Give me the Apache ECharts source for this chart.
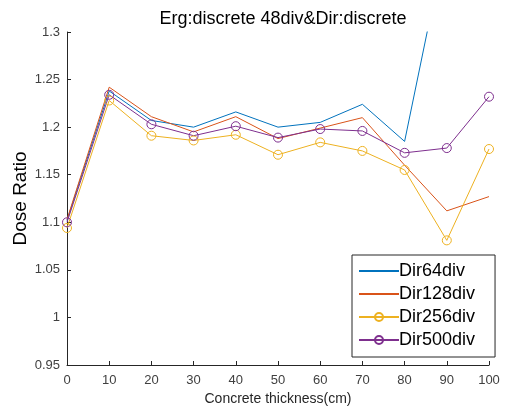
<!DOCTYPE html>
<html>
<head>
<meta charset="utf-8">
<script src="https://cdn.jsdelivr.net/npm/echarts@6/dist/echarts.min.js"></script>
<style>
  html, body { margin: 0; padding: 0; background: #fff; }
  #chart { width: 505px; height: 409px; }
</style>
</head>
<body>
<div id="chart"></div>
<script>
// concrete thickness (cm)
var thickness = [0, 10, 20, 30, 40, 50, 60, 70, 80, 90, 100];

var dir64 = [1.102, 1.238, 1.207, 1.200, 1.216, 1.200, 1.205, 1.224, 1.185, 1.40, 1.45];
var dir128 = [1.103, 1.242, 1.211, 1.195, 1.211, 1.188, 1.199, 1.210, 1.160, 1.112, 1.127];
var dir256 = [1.094, 1.228, 1.191, 1.186, 1.192, 1.171, 1.184, 1.175, 1.155, 1.081, 1.177];
var dir500 = [1.100, 1.234, 1.203, 1.191, 1.201, 1.189, 1.198, 1.196, 1.173, 1.178, 1.232];

var seriesNames = ["Dir64div", "Dir128div", "Dir256div", "Dir500div"];
var colors = ["#0072BD", "#D95319", "#EDB120", "#7E2F8E"];

var font = "Liberation Sans, Arial, sans-serif";

function pairs(values) {
  return thickness.map(function (t, i) { return [t, values[i]]; });
}

function makeSeries(name, values, color, marker) {
  return {
    name: name,
    type: "line",
    data: pairs(values),
    clip: true,
    symbol: marker ? "circle" : "none",
    symbolSize: 9,
    showSymbol: marker,
    lineStyle: { color: color, width: 1 },
    // no marker -> keep legend circle invisible too
    itemStyle: marker
      ? { color: "rgba(0,0,0,0)", borderColor: color, borderWidth: 1 }
      : { color: "rgba(0,0,0,0)", borderColor: "rgba(0,0,0,0)", borderWidth: 0 },
    emphasis: { disabled: true },
    animation: false
  };
}

var chart = echarts.init(document.getElementById("chart"));
chart.setOption({
  animation: false,
  title: {
    text: "Erg:discrete 48div&Dir:discrete",
    left: 278,
    textAlign: "center",
    top: 5,
    textStyle: { fontFamily: font, fontSize: 18, fontWeight: "normal", color: "#000" }
  },
  legend: {
    data: seriesNames,
    orient: "vertical",
    left: 352,
    top: 255,
    padding: [7, 20, 8, 6],
    itemGap: 5,
    itemWidth: 40,
    itemHeight: 10,
    backgroundColor: "#fff",
    borderColor: "#262626",
    borderWidth: 1,
    textStyle: { fontFamily: font, fontSize: 18, color: "#000", padding: [0, 0, 0, -5] }
  },
  grid: { left: 67, right: 16, top: 32, bottom: 44, outerBoundsMode: "none" },
  xAxis: {
    type: "value",
    min: 0,
    max: 100,
    interval: 10,
    name: "Concrete thickness(cm)",
    nameLocation: "middle",
    nameGap: 27,
    nameMoveOverlap: false,
    nameTextStyle: { fontFamily: font, fontSize: 14, color: "#262626" },
    axisLine: { lineStyle: { color: "#262626" } },
    axisTick: { inside: true, length: 4, lineStyle: { color: "#262626" } },
    axisLabel: { fontFamily: font, fontSize: 13, color: "#404040", margin: 9 },
    splitLine: { show: false }
  },
  yAxis: {
    type: "value",
    min: 0.95,
    max: 1.3,
    interval: 0.05,
    name: "Dose Ratio",
    nameLocation: "middle",
    nameGap: 37,
    nameMoveOverlap: false,
    nameTextStyle: { fontFamily: font, fontSize: 19, color: "#000" },
    axisLine: { show: true, lineStyle: { color: "#262626" } },
    axisTick: { show: true, inside: true, length: 4, lineStyle: { color: "#262626" } },
    axisLabel: {
      fontFamily: font, fontSize: 13, color: "#404040", margin: 7,
      formatter: function (v) { return String(+v.toFixed(2)); }
    },
    splitLine: { show: false }
  },
  series: [
    makeSeries(seriesNames[0], dir64, colors[0], false),
    makeSeries(seriesNames[1], dir128, colors[1], false),
    makeSeries(seriesNames[2], dir256, colors[2], true),
    makeSeries(seriesNames[3], dir500, colors[3], true)
  ]
});
</script>
</body>
</html>
